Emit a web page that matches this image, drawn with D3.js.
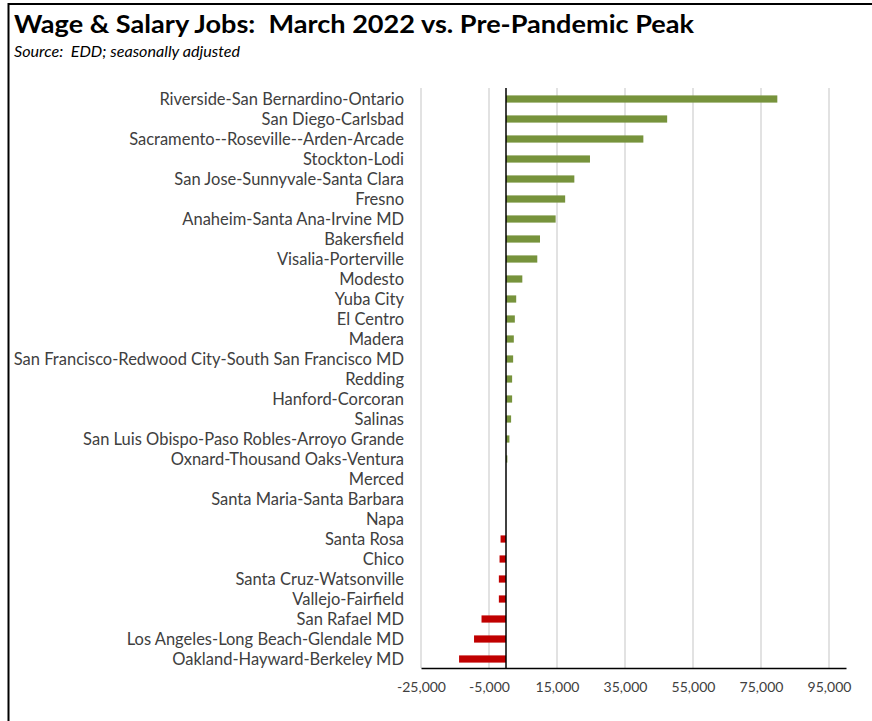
<!DOCTYPE html>
<html>
<head>
<meta charset="utf-8">
<script src="https://cdn.jsdelivr.net/npm/d3@7"></script>
<style>
  html, body { margin: 0; padding: 0; background: #fff; }
  svg { display: block; }
  text { white-space: pre; }
</style>
</head>
<body>
<svg id="chart" width="872" height="721"></svg>
<script>
// Metro areas, ordered from largest gain to largest loss
const areas = [
  "Riverside-San Bernardino-Ontario",
  "San Diego-Carlsbad",
  "Sacramento--Roseville--Arden-Arcade",
  "Stockton-Lodi",
  "San Jose-Sunnyvale-Santa Clara",
  "Fresno",
  "Anaheim-Santa Ana-Irvine MD",
  "Bakersfield",
  "Visalia-Porterville",
  "Modesto",
  "Yuba City",
  "El Centro",
  "Madera",
  "San Francisco-Redwood City-South San Francisco MD",
  "Redding",
  "Hanford-Corcoran",
  "Salinas",
  "San Luis Obispo-Paso Robles-Arroyo Grande",
  "Oxnard-Thousand Oaks-Ventura",
  "Merced",
  "Santa Maria-Santa Barbara",
  "Napa",
  "Santa Rosa",
  "Chico",
  "Santa Cruz-Watsonville",
  "Vallejo-Fairfield",
  "San Rafael MD",
  "Los Angeles-Long Beach-Glendale MD",
  "Oakland-Hayward-Berkeley MD"
];

// Change in wage & salary jobs, March 2022 vs. pre-pandemic peak
const jobChange = [
  79800, 47400, 40400, 24700, 20100, 17400, 14600, 10000, 9200, 4800,
  3000, 2600, 2300, 2100, 1800, 1800, 1500, 1000, 400,
  0, 0, 0,
  -1600, -1900, -2100, -2100, -7200, -9400, -13800
];

// Horizontal axis ticks
const tickValues = [-25000, -5000, 15000, 35000, 55000, 75000, 95000];
const axisDomain = [-25000, 100000];

const svg = d3.select("#chart");
const W = 872, H = 721;
const plot = { left: 421, right: 846, top: 88, bottom: 668 };
const font = "Lato, 'Open Sans', sans-serif";

// Frame lines along the top and left edges
svg.append("line").attr("x1", 8).attr("x2", W).attr("y1", 4).attr("y2", 4)
  .attr("stroke", "#000").attr("stroke-width", 2);
svg.append("line").attr("x1", 8.5).attr("x2", 8.5).attr("y1", 3).attr("y2", H)
  .attr("stroke", "#000").attr("stroke-width", 2);

// Title and source note
svg.append("text")
  .attr("x", 14).attr("y", 33)
  .attr("font-family", font)
  .attr("font-weight", 700)
  .attr("font-size", 25)
  .attr("fill", "#000")
  .attr("textLength", 680).attr("lengthAdjust", "spacingAndGlyphs")
  .text("Wage & Salary Jobs:  March 2022 vs. Pre-Pandemic Peak");

svg.append("text")
  .attr("x", 14).attr("y", 57)
  .attr("font-family", font)
  .attr("font-style", "italic")
  .attr("font-size", 14.5)
  .attr("fill", "#000")
  .attr("textLength", 226).attr("lengthAdjust", "spacingAndGlyphs")
  .text("Source:  EDD; seasonally adjusted");

const x = d3.scaleLinear().domain(axisDomain).range([plot.left, plot.right]);
const y = d3.scaleBand().domain(areas).range([plot.top + 1, plot.bottom + 1]).paddingInner(0.64).paddingOuter(0.32);

// Vertical gridlines
svg.append("g")
  .selectAll("line")
  .data(tickValues)
  .join("line")
  .attr("x1", d => x(d)).attr("x2", d => x(d))
  .attr("y1", plot.top).attr("y2", plot.bottom)
  .attr("stroke", "#d9d9d9").attr("stroke-width", 1.5);

// Bars
svg.append("g")
  .selectAll("rect")
  .data(areas.map((a, i) => ({ area: a, value: jobChange[i] })))
  .join("rect")
  .attr("x", d => x(Math.min(0, d.value)))
  .attr("width", d => Math.abs(x(d.value) - x(0)))
  .attr("y", d => y(d.area))
  .attr("height", y.bandwidth())
  .attr("fill", d => d.value >= 0 ? "#77933c" : "#c00000");

// Zero line
svg.append("line")
  .attr("x1", x(0)).attr("x2", x(0))
  .attr("y1", plot.top).attr("y2", plot.bottom)
  .attr("stroke", "#000").attr("stroke-width", 1.5);

// Bottom axis with tick labels (plain hyphen for negatives)
const fmt = d3.format(",");
const xAxis = d3.axisBottom(x)
  .tickValues(tickValues)
  .tickFormat(d => fmt(d).replace("\u2212", "-"))
  .tickSize(0)
  .tickPadding(14);

const gx = svg.append("g")
  .attr("transform", `translate(0,${plot.bottom})`)
  .call(xAxis);
gx.select(".domain").attr("stroke", "#000").attr("stroke-width", 1.5);
gx.selectAll("text")
  .attr("font-family", font)
  .attr("font-size", 14)
  .attr("fill", "#404040");

// Category labels
const yAxis = d3.axisLeft(y).tickSize(0).tickPadding(0);
const gy = svg.append("g")
  .attr("transform", `translate(404,1)`)
  .call(yAxis);
gy.select(".domain").remove();
gy.selectAll("text")
  .attr("font-family", font)
  .attr("font-size", 16.5)
  .attr("fill", "#404040");
</script>
</body>
</html>
